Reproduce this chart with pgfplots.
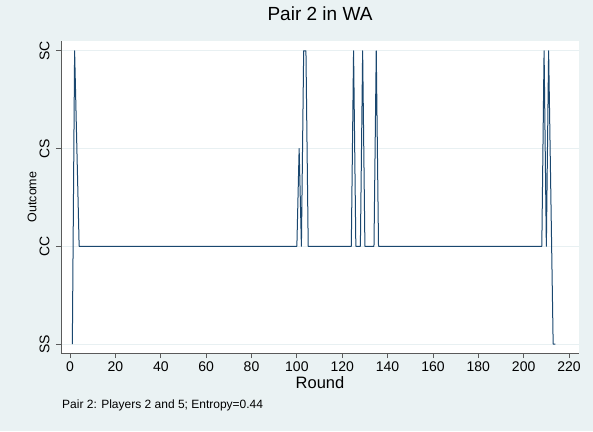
\documentclass[border=0pt]{standalone}
\usepackage{fontspec}
\setmainfont{Liberation Sans}
\usepackage{pgfplots}
\pgfplotsset{compat=1.18}
\definecolor{bgstata}{RGB}{234,242,243}
\definecolor{gridstata}{RGB}{232,240,242}
\definecolor{navystata}{RGB}{26,71,111}
\definecolor{axisgray}{RGB}{90,90,90}
\begin{document}
\begin{tikzpicture}
% graph region
\fill[bgstata] (0pt,0pt) rectangle (593pt,431pt);
\begin{axis}[
  at={(61pt,78pt)}, anchor=south west,
  scale only axis, width=518pt, height=312pt,
  xmin=-4, xmax=224.4, ymin=-0.092, ymax=3.1,
  axis background/.style={fill=white},
  axis x line*=bottom, axis y line*=left,
  axis line style={-, draw=axisgray, line width=0.8pt},
  tick align=outside, major tick length=5pt,
  tick style={axisgray, line width=0.8pt},
  xtick={0,20,...,220},
  ytick={0,1,2,3}, yticklabels={SS,CC,CS,SC},
  ymajorgrids, grid style={gridstata, line width=0.8pt},
  /pgf/number format/assume math mode=true,
  tick label style={font=\fontsize{14}{16}\selectfont, text=black},
  yticklabel style={rotate=90, anchor=south, yshift=3pt},
]
% outcome per round (SS=0, CC=1, CS=2, SC=3)
\addplot[navystata, line width=1pt, line join=round] coordinates {
  (1,0) (2,3) (3,2) (4,1) (100,1) (101,2) (102,1) (103,3) (104,3) (105,1)
  (124,1) (125,3) (126,1) (128,1) (129,3) (130,1) (134,1) (135,3) (136,1)
  (208,1) (209,3) (210,1) (211,3) (213,0) (214,0)
};
\end{axis}
\node[font=\fontsize{19}{22}\selectfont] at (320pt,417pt) {Pair 2 in WA};
\node[font=\fontsize{16.5}{19}\selectfont] at (320pt,48pt) {Round};
\node[font=\fontsize{12.5}{15}\selectfont, rotate=90] at (32pt,234pt) {Outcome};
\node[font=\fontsize{12}{14}\selectfont, anchor=west, inner sep=0pt] at (62pt,26pt) {Pair 2: Players 2 and 5; Entropy=0.44};
\end{tikzpicture}
\end{document}
